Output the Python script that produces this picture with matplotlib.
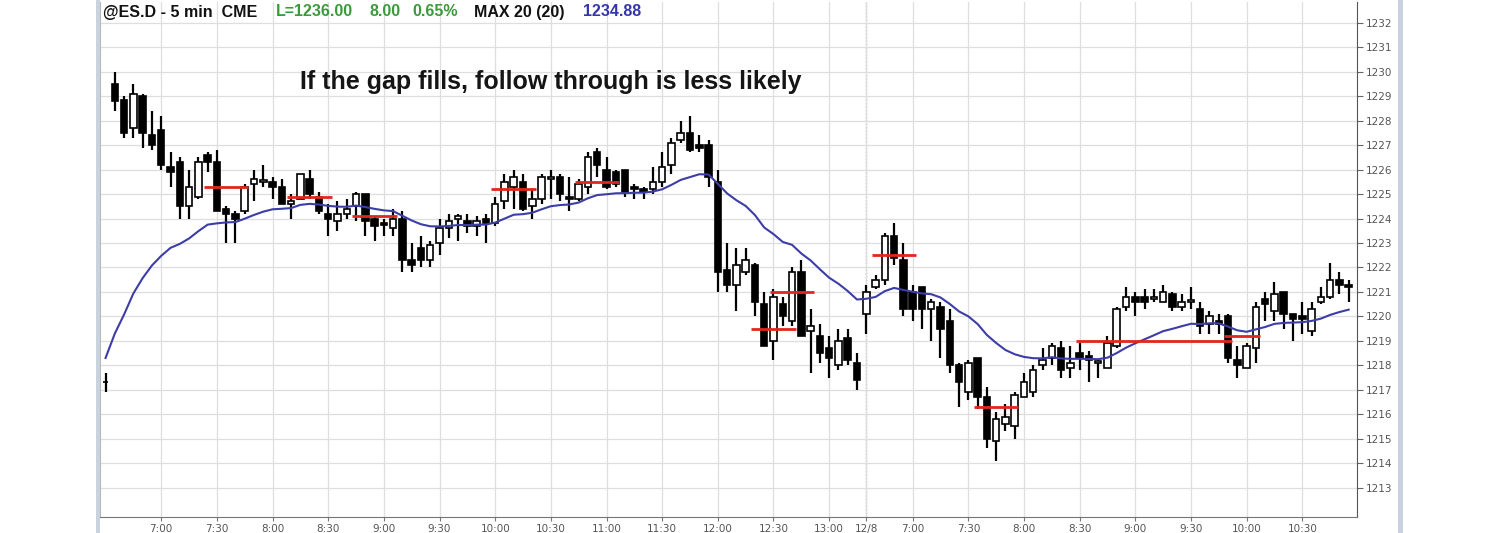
import matplotlib
matplotlib.use("Agg")
import matplotlib.pyplot as plt
import numpy as np
import pandas as pd
from matplotlib.patches import Rectangle

# ---------------- data ----------------
prior_bar = [1217.3, 1217.7, 1216.9, 1217.3]   # O H L C of the previous session's last bar
ema_seed = 1218.3                                # MA value at the previous session's last bar
ma_length = 20

day1_open = [1229.5, 1228.85, 1227.7, 1229.0, 1227.4, 1227.6, 1226.1, 1226.3, 1224.5, 1224.9,
             1226.6, 1226.3, 1224.4, 1224.2, 1224.3, 1225.4, 1225.5, 1225.5, 1225.3, 1224.6,
             1224.8, 1225.6, 1224.9, 1224.2, 1223.9, 1224.2, 1224.5, 1225.0, 1224.0, 1223.8,
             1223.6, 1224.0, 1222.3, 1222.8, 1222.3, 1223.0, 1223.6, 1224.0, 1223.9, 1223.7,
             1224.0, 1223.8, 1224.7, 1225.3, 1225.5, 1224.5, 1224.8, 1225.6, 1225.7, 1224.9,
             1224.8, 1225.3, 1226.7, 1226.0, 1225.9, 1226.0, 1225.3, 1225.2, 1225.2, 1225.5,
             1226.2, 1227.2, 1227.5, 1227.0, 1227.0, 1225.5, 1221.9, 1221.3, 1221.8, 1222.1,
             1220.5, 1219.0, 1220.5, 1219.8, 1221.8, 1219.4, 1219.2, 1218.7, 1218.0, 1219.1,
             1218.1]
day1_high = [1230.0, 1229.0, 1229.5, 1229.1, 1228.4, 1228.2, 1226.7, 1226.5, 1226.0, 1226.5,
             1226.7, 1226.8, 1224.5, 1224.3, 1225.4, 1226.0, 1226.2, 1225.7, 1225.6, 1225.0,
             1225.8, 1226.0, 1225.1, 1224.6, 1224.7, 1224.8, 1225.1, 1225.0, 1224.1, 1224.0,
             1224.4, 1224.3, 1223.0, 1223.3, 1223.1, 1224.0, 1224.2, 1224.2, 1224.2, 1224.1,
             1224.2, 1224.9, 1225.8, 1226.0, 1225.8, 1225.2, 1225.8, 1226.0, 1225.8, 1225.7,
             1225.6, 1226.7, 1226.9, 1226.5, 1226.0, 1226.0, 1225.4, 1225.3, 1226.1, 1226.7,
             1227.3, 1228.0, 1228.2, 1227.4, 1227.2, 1226.0, 1223.0, 1222.8, 1222.8, 1222.2,
             1221.0, 1221.1, 1220.8, 1222.0, 1222.3, 1220.3, 1219.7, 1219.2, 1219.5, 1219.5,
             1218.5]
day1_low = [1228.4, 1227.3, 1227.3, 1226.9, 1226.8, 1226.0, 1225.3, 1224.0, 1224.0, 1224.8,
            1225.9, 1224.3, 1223.0, 1223.0, 1224.2, 1224.7, 1225.3, 1224.8, 1224.6, 1224.0,
            1224.8, 1224.8, 1224.2, 1223.3, 1223.5, 1224.0, 1223.9, 1223.3, 1223.1, 1223.3,
            1223.3, 1221.8, 1221.8, 1222.0, 1222.0, 1222.5, 1223.2, 1223.1, 1223.4, 1223.3,
            1223.0, 1223.7, 1224.4, 1224.4, 1224.3, 1224.0, 1224.6, 1224.8, 1224.7, 1224.3,
            1224.7, 1225.0, 1225.7, 1225.2, 1225.3, 1224.9, 1224.8, 1224.8, 1225.0, 1225.3,
            1225.8, 1227.1, 1226.7, 1226.7, 1225.3, 1221.0, 1221.0, 1220.2, 1221.7, 1220.0,
            1218.8, 1218.2, 1219.6, 1219.6, 1219.2, 1217.7, 1218.1, 1217.5, 1217.8, 1218.0,
            1217.0]
day1_close = [1228.8, 1227.5, 1229.1, 1227.5, 1227.0, 1226.2, 1225.9, 1224.5, 1225.3, 1226.3,
              1226.3, 1224.3, 1224.2, 1224.0, 1225.3, 1225.6, 1225.55, 1225.3, 1224.6, 1224.7,
              1225.8, 1225.0, 1224.3, 1224.0, 1224.2, 1224.4, 1225.0, 1223.9, 1223.7, 1223.75,
              1224.0, 1222.3, 1222.1, 1222.3, 1222.9, 1223.6, 1223.9, 1224.1, 1223.7, 1223.9,
              1223.8, 1224.6, 1225.5, 1225.7, 1224.4, 1224.8, 1225.7, 1225.7, 1225.0, 1224.8,
              1225.4, 1226.5, 1226.2, 1225.3, 1225.4, 1225.1, 1225.2, 1225.1, 1225.5, 1226.1,
              1227.1, 1227.5, 1226.8, 1226.9, 1225.7, 1221.8, 1221.3, 1222.1, 1222.3, 1220.6,
              1218.8, 1220.8, 1220.0, 1221.8, 1219.2, 1219.6, 1218.5, 1218.3, 1219.0, 1218.2,
              1217.4]

day2_open = [1220.1, 1221.2, 1221.5, 1223.3, 1222.3, 1221.0, 1221.2, 1220.3, 1220.4, 1219.8,
             1218.0, 1216.9, 1218.3, 1216.7, 1214.9, 1215.6, 1215.5, 1216.7, 1216.9, 1218.0,
             1218.3, 1218.7, 1217.9, 1218.5, 1218.4, 1218.1, 1217.9, 1218.8, 1220.4, 1220.8,
             1220.8, 1220.7, 1220.6, 1220.9, 1220.4, 1220.6, 1220.3, 1219.7, 1219.8, 1220.0,
             1218.2, 1217.9, 1218.7, 1220.7, 1220.2, 1221.0, 1220.1, 1220.0, 1219.4, 1220.6,
             1220.8, 1221.5, 1221.3]
day2_high = [1221.3, 1221.7, 1223.4, 1223.8, 1223.0, 1221.3, 1221.2, 1220.7, 1220.6, 1220.3,
             1218.1, 1218.2, 1218.3, 1217.1, 1216.1, 1216.4, 1216.9, 1217.7, 1218.0, 1218.7,
             1218.9, 1219.0, 1218.8, 1218.9, 1218.6, 1218.2, 1219.2, 1220.4, 1221.2, 1221.0,
             1221.1, 1221.1, 1221.3, 1221.0, 1220.9, 1221.2, 1220.6, 1220.2, 1220.1, 1220.1,
             1218.8, 1218.9, 1220.6, 1221.0, 1221.4, 1221.0, 1220.1, 1220.6, 1220.6, 1221.2,
             1222.2, 1221.8, 1221.5]
day2_low = [1219.3, 1221.1, 1221.3, 1222.1, 1220.0, 1219.8, 1219.5, 1219.0, 1218.3, 1217.7,
            1216.3, 1216.6, 1216.2, 1214.6, 1214.1, 1215.3, 1215.0, 1216.7, 1216.7, 1217.8,
            1218.0, 1217.5, 1217.5, 1217.8, 1217.3, 1217.5, 1217.9, 1218.7, 1220.2, 1220.0,
            1220.3, 1220.6, 1220.6, 1220.2, 1220.2, 1220.3, 1219.3, 1219.3, 1219.3, 1218.1,
            1217.5, 1217.9, 1218.1, 1219.8, 1219.8, 1219.5, 1219.0, 1219.3, 1219.2, 1220.5,
            1220.7, 1220.9, 1220.6]
day2_close = [1221.0, 1221.5, 1223.3, 1222.4, 1220.3, 1220.3, 1220.3, 1220.6, 1219.5, 1218.0,
              1217.3, 1218.1, 1216.7, 1215.0, 1215.8, 1215.9, 1216.8, 1217.3, 1217.8, 1218.2,
              1218.8, 1217.8, 1218.1, 1218.3, 1218.2, 1218.15, 1218.9, 1220.3, 1220.8, 1220.6,
              1220.6, 1220.8, 1221.0, 1220.4, 1220.6, 1220.65, 1219.6, 1220.0, 1219.7, 1218.3,
              1218.0, 1218.8, 1220.4, 1220.5, 1220.9, 1220.1, 1219.9, 1219.9, 1220.3, 1220.8,
              1221.5, 1221.3, 1221.2]

session_starts = ["2010-12-07 06:35", "2010-12-08 06:35"]
day2_tick_label = "12/8"

# gap marker lines: (first bar, last bar, price)
gap_start = [10, 19, 26, 41, 50, 69, 71, 82, 93, 104, 120]
gap_end = [14, 23, 30, 45, 54, 73, 75, 86, 97, 120, 123]
gap_price = [1225.3, 1224.9, 1224.1, 1225.2, 1225.5, 1219.5, 1221.0, 1222.5, 1216.3, 1219.0, 1219.2]

title_text = "If the gap fills, follow through is less likely"
header_parts = [("@ES.D - 5 min  CME", "#111111"), ("L=1236.00", "#3c9a3c"), ("8.00", "#3c9a3c"),
                ("0.65%", "#3c9a3c"), ("MAX 20 (20)", "#111111"), ("1234.88", "#3535b0")]
y_ticks = list(range(1213, 1233))

# ---------------- build frame ----------------
opens = np.array([prior_bar[0]] + day1_open + day2_open)
highs = np.array([prior_bar[1]] + day1_high + day2_high)
lows = np.array([prior_bar[2]] + day1_low + day2_low)
closes = np.array([prior_bar[3]] + day1_close + day2_close)
x = np.arange(len(opens)) - 1   # prior bar sits at -1

t1 = pd.date_range(session_starts[0], periods=len(day1_open), freq="5min")
t2 = pd.date_range(session_starts[1], periods=len(day2_open), freq="5min")
times = list(t1) + list(t2)

# exponential moving average
alpha = 2.0 / (ma_length + 1)
ema = [ema_seed]
for c in closes[1:]:
    ema.append(ema[-1] + alpha * (c - ema[-1]))
ema = np.array(ema)

# ---------------- figure ----------------
W, H = 1500, 533
fig = plt.figure(figsize=(W / 100, H / 100), dpi=100)
fig.patch.set_facecolor("white")

# window frame strips
fig.patches.append(Rectangle((96 / W, 0), 4 / W, 1, transform=fig.transFigure,
                             facecolor="#c9d3e0", edgecolor="none", zorder=0))
fig.patches.append(Rectangle((1398 / W, 0), 5 / W, 1, transform=fig.transFigure,
                             facecolor="#c9d3e0", edgecolor="none", zorder=0))

L, R, B, T = 100, 1357, 517, 2
ax = fig.add_axes([L / W, 1 - B / H, (R - L) / W, (B - T) / H])
ax.set_facecolor("white")

ax.set_xlim(-1.6, 133.9)
ax.set_ylim(1211.8, 1232.85)

# grid
ax.set_yticks(y_ticks)
ax.yaxis.tick_right()
ax.tick_params(axis="y", which="both", direction="out", length=4, width=0.8,
               colors="#666666", labelsize=7.5, labelcolor="#555555", pad=2)
ax.grid(True, axis="both", color="#dedede", linewidth=0.9, zorder=0)

# x ticks: every half hour, plus session start label
tick_pos, tick_lab = [], []
for i, t in enumerate(times):
    if i == len(day1_open):
        tick_pos.append(i)
        tick_lab.append(day2_tick_label)
    elif t.minute % 30 == 0:
        tick_pos.append(i)
        tick_lab.append(f"{t.hour}:{t.minute:02d}")
ax.set_xticks(tick_pos)
ax.set_xticklabels(tick_lab)
ax.tick_params(axis="x", direction="out", length=3, width=0.8, colors="#777777",
               labelsize=7.5, labelcolor="#555555", pad=2)

ax.spines["top"].set_visible(False)
ax.spines["left"].set_color("#b8b8b8")
ax.spines["bottom"].set_color("#777777")
ax.spines["right"].set_color("#555555")

# session separator
ax.axvline(len(day1_open), color="#999999", linestyle=(0, (1, 1.5)), linewidth=1.0, zorder=1)

# candles
up = closes >= opens
body_lo = np.minimum(opens, closes)
body_h = np.maximum(np.abs(closes - opens), 0.08)
ax.vlines(x, lows, highs, color="black", linewidth=1.6, zorder=3)
ax.bar(x[1:], body_h[1:], bottom=body_lo[1:], width=0.7,
       color=np.where(up[1:], "white", "black"), edgecolor="black", linewidth=1.2, zorder=4)
ax.hlines(closes[0], x[0] - 0.3, x[0] + 0.3, color="black", linewidth=1.2, zorder=4)

# moving average
ax.plot(x, ema, color="#3d3da8", linewidth=1.5, zorder=5)

# gap marker lines
for s, e, p in zip(gap_start, gap_end, gap_price):
    ax.hlines(p, s - 0.4, e + 0.4, color="#e0261e", linewidth=2.0, zorder=6)

# annotation
ax.text(0.159, 0.845, title_text, transform=ax.transAxes, fontsize=18,
        fontweight="bold", family="Liberation Sans", color="#151515", va="center", ha="left")

# header
header_x = [103, 276, 370, 412, 474, 583]
for (txt, col), hx in zip(header_parts, header_x):
    fig.text(hx / W, 1 - 12 / H, txt, color=col, fontsize=11.5, fontweight="bold",
             family="Liberation Sans", va="center", ha="left")

fig.savefig("out.png", dpi=100, facecolor="white")
